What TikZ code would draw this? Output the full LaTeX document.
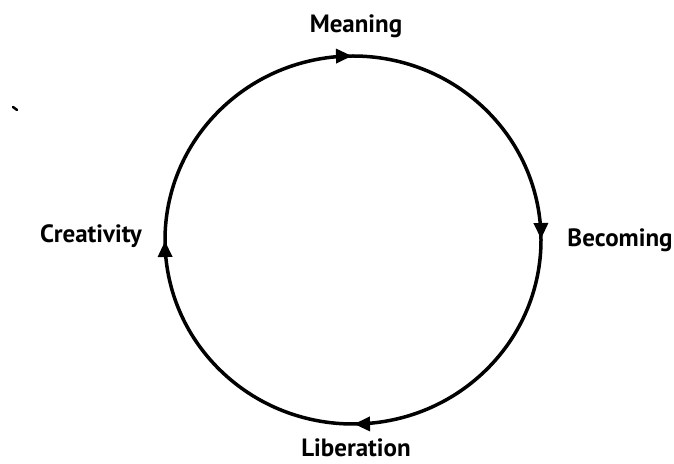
\documentclass[tikz,border=0pt]{standalone}
\usepackage{fontspec}
\setmainfont{PT Sans}
\usetikzlibrary{arrows.meta,decorations.markings,calc}
\tikzset{cyctip/.tip={Triangle[length=16pt,width=14pt]}}
\begin{document}
\begin{tikzpicture}[x=1pt,y=1pt,
  lbl/.style={font=\bfseries\fontsize{25}{27}\selectfont, inner sep=0pt, anchor=base},
  cyc/.style={line width=3.5pt, postaction={decorate}, decoration={markings,
     mark=at position 0.125 with {\arrow{cyctip}},
     mark=at position 0.375 with {\arrow{cyctip}},
     mark=at position 0.625 with {\arrow{cyctip}},
     mark=at position 0.875 with {\arrow{cyctip}}}}]
\useasboundingbox (0,0) rectangle (674,463);
\coordinate (c) at (353,223);
\draw[cyc] ($(c)+(135:188 and 184)$) arc[start angle=135, end angle=-225, x radius=188, y radius=184];
\node[lbl] (meaning) at (356,430) {Meaning};
\node[lbl] (becoming) at (620,216) {Becoming};
\node[lbl] (liberation) at (356,7) {Liberation};
\node[lbl] (creativity) at (91,220) {Creativity};
\draw[line width=2.5pt, line cap=round] (13,356) -- (17,353);
\end{tikzpicture}
\end{document}
